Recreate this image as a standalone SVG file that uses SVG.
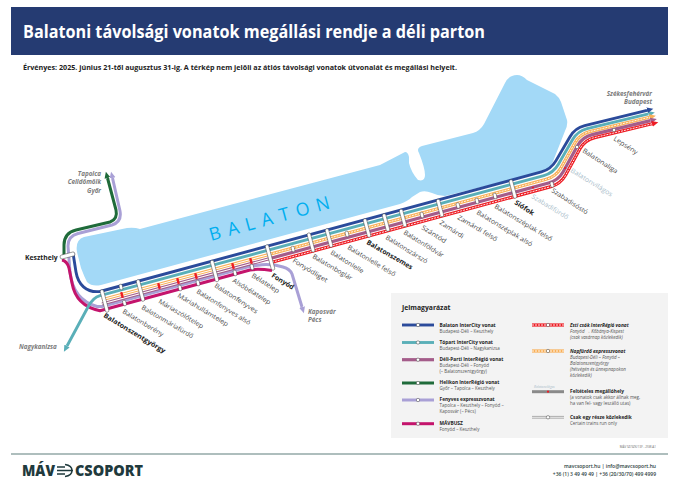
<svg xmlns="http://www.w3.org/2000/svg" xmlns:xlink="http://www.w3.org/1999/xlink" width="680" height="481" viewBox="0 0 680 481">
<style>
text{font-family:"Open Sans","Noto Sans","Liberation Sans",sans-serif}
.s{font-size:6.5px;fill:#4a4a4a}
.b{font-size:6.8px;font-weight:700;fill:#222}
.c{font-size:6.5px;fill:#a9bdca}
.d{font-size:6.3px;font-weight:700;font-style:italic;fill:#7c7c7c}
.lt{font-size:4.8px;font-weight:700;fill:#222}
.ls{font-size:4.5px;fill:#555}
.lti{font-size:4.8px;font-weight:700;font-style:italic;fill:#222}
.lsi{font-size:4.5px;font-style:italic;fill:#555}
.l{fill:none;stroke-linejoin:round}
.pill{fill:#fff;stroke:#444;stroke-width:.5}
.mk{fill:#ed1c24}
.blue{stroke:#2b4b9b;stroke-width:2.9}
.teal{stroke:#5aafb8;stroke-width:2.9}
.orange{stroke:#f9b058;stroke-width:3.2}
.mauve{stroke:#a45c8a;stroke-width:3.2}
.red{stroke:#ed1c24;stroke-width:3.2}
.lilac{stroke:#a9a0d6;stroke-width:3}
.magenta{stroke:#c4146c;stroke-width:3}
.green{stroke:#1f6b3a;stroke-width:3}
.wd{stroke:#fff;stroke-width:.9;stroke-dasharray:2 1;fill:none}
.ws{stroke:#fff;stroke-width:1.1;fill:none}
</style>
<defs>
<marker id="a-blue" markerUnits="userSpaceOnUse" markerWidth="8" markerHeight="8" refX="0" refY="4" orient="auto-start-reverse"><path d="M0 1L6.5 4L0 7z" fill="#2b4b9b"/></marker>
<marker id="a-teal" markerUnits="userSpaceOnUse" markerWidth="8" markerHeight="8" refX="0" refY="4" orient="auto-start-reverse"><path d="M0 1L6.5 4L0 7z" fill="#5aafb8"/></marker>
<marker id="a-orange" markerUnits="userSpaceOnUse" markerWidth="8" markerHeight="8" refX="0" refY="4" orient="auto-start-reverse"><path d="M0 1L6.5 4L0 7z" fill="#f9b058"/></marker>
<marker id="a-mauve" markerUnits="userSpaceOnUse" markerWidth="8" markerHeight="8" refX="0" refY="4" orient="auto-start-reverse"><path d="M0 1L6.5 4L0 7z" fill="#a45c8a"/></marker>
<marker id="a-red" markerUnits="userSpaceOnUse" markerWidth="8" markerHeight="8" refX="0" refY="4" orient="auto-start-reverse"><path d="M0 1L6.5 4L0 7z" fill="#ed1c24"/></marker>
<marker id="a-lilac" markerUnits="userSpaceOnUse" markerWidth="8" markerHeight="8" refX="0" refY="4" orient="auto-start-reverse"><path d="M0 1L6.5 4L0 7z" fill="#a9a0d6"/></marker>
<marker id="a-green" markerUnits="userSpaceOnUse" markerWidth="8" markerHeight="8" refX="0" refY="4" orient="auto-start-reverse"><path d="M0 1L6.5 4L0 7z" fill="#1f6b3a"/></marker>
<rect id="sm" x="-1.6" y="-2.8" width="3.2" height="5.6" rx="1.3" class="pill"/>
<rect id="rm" x="-1.2" y="-3" width="2.4" height="6" rx=".6" class="mk"/>
<circle id="cir" r="1.7" fill="#fff" stroke="#444" stroke-width=".5"/>
</defs>

<g id="header">
<rect x="11" y="7" width="657" height="48" fill="#253b72"/>
<text x="23" y="38" font-size="17" font-weight="700" fill="#fff" textLength="462" lengthAdjust="spacingAndGlyphs">Balatoni távolsági vonatok megállási rendje a déli parton</text>
<text x="23" y="70" font-size="6.8" font-weight="700" fill="#222" textLength="434" lengthAdjust="spacingAndGlyphs">Érvényes: 2025. június 21-től augusztus 31-ig. A térkép nem jelöli az átlós távolsági vonatok útvonalát és megállási helyeit.</text>
</g>

<g id="lake">
<path fill="#a3d9f7" d="M84 237L127 228Q134 227 140 229L380 165L405 152Q408 152 409 157L409 163Q411 172 418 180Q425 182 425 175Q425 168 419 153Q416 148 422 146L473 133Q480 131 484 124L505 83Q509 75 517 75Q522 75 527 80L555 94Q559 97 561 102L567 120Q568 125 565 131L552 164Q549 170 543 172L445 196Q438 196 432 193Q425 190 420 192L412 197Q408 201 400 204L101 285Q92 287 87 282Q84 276 81 268L77 252Q75 240 84 237z"/>
<text transform="translate(211 241) rotate(-15.3)" font-size="18" letter-spacing="1.25" fill="#00aeef">B A L A T O N</text>
</g>

<g id="connectors">
<path class="l lilac" marker-start="url(#a-lilac)" marker-end="url(#a-lilac)" d="M112.5 178L120 211Q122 222 112 225L78 233.5Q68 236 68 246L70 272Q73 300 97 306.5L102 306.5L250 266.4L262 264.7Q273 264 283 267Q290 269 292 274L302 307"/>
<path class="l green" marker-start="url(#a-green)" d="M107.5 178L116 210Q118 219 110 222L76 230Q64 233 64 245L64 255"/>
<path class="l magenta" d="M62 260Q67 261 69 268L72 283Q76 306 100 310.7L250 270Q258 268.5 272 270.5"/>
<path class="l teal" marker-start="url(#a-teal)" d="M67 346L88 307Q93 297.5 100 295.7L543.8 175.6Q553.4 173 558.4 164.3L572.5 139.7Q577.5 131 587.2 128.6L648.5 113.9" style="marker-end:url(#a-teal)"/>
<path class="l blue" marker-end="url(#a-blue)" d="M73 253L76 272C78 284 86 293 100 291.5L541.4 171.9Q551 169.3 556 160.6L570 136.7Q575 128 584.7 125.6L647 110.3"/>
<path id="p-o" class="l orange" marker-end="url(#a-orange)" d="M102 299.7L546.2 179.3Q555.8 176.7 560.8 168L575 142.7Q580 134 589.7 131.6L649.5 117.2"/>
<path class="wd" d="M270 254.2L546.2 179.3Q555.8 176.7 560.8 168L575 142.7Q580 134 589.7 131.6L649.5 117.2"/>
<path class="ws" d="M102 299.7L270 254.2"/>
<path class="l mauve" marker-end="url(#a-mauve)" d="M102 304L548.6 183Q558.2 180.4 563.2 171.7L577.5 145.7Q582.5 137 592.2 134.6L650.5 120.6"/>
<path class="ws" d="M102 304L270 258.5"/>
<path class="l red" marker-end="url(#a-red)" d="M272 262.2L550.9 186.6Q560.5 184 565.5 175.3L580 148.7Q585 140 594.7 137.6L652 123.8"/>
<path class="wd" d="M272 262.2L550.9 186.6Q560.5 184 565.5 175.3L580 148.7Q585 140 594.7 137.6L652 123.8"/>
</g>

<g id="destinations">
<text class="d" x="101" y="176" text-anchor="end">Tapolca</text>
<text class="d" x="101" y="184.3" text-anchor="end">Celldömölk</text>
<text class="d" x="101" y="192.7" text-anchor="end">Győr</text>
<text class="d" x="19" y="349">Nagykanizsa</text>
<text class="d" x="308" y="314">Kaposvár</text>
<text class="d" x="308" y="322">Pécs</text>
<text class="d" x="652" y="96" text-anchor="end">Székesfehérvár</text>
<text class="d" x="652" y="103.5" text-anchor="end">Budapest</text>
</g>

<g id="st-keszthely"><rect class="pill" x="-7.5" y="-2" width="15" height="4" rx="1.5" transform="translate(67.5 255.5) rotate(-15)"/><text class="b" x="25" y="260">Keszthely</text></g>
<g id="st-balatonszentgyorgy"><rect class="pill" x="-1.8" y="-11.5" width="3.6" height="23" rx="1.5" transform="translate(104.5 301) rotate(-15)"/><text class="b" transform="translate(103 316.7) rotate(31.2)" textLength="71" lengthAdjust="spacingAndGlyphs">Balatonszentgyörgy</text></g>
<g id="st-balatonbereny"><use href="#sm" transform="translate(121 287) rotate(-15)"/><use href="#sm" transform="translate(124.5 303) rotate(-15)"/><use href="#rm" transform="translate(122 295) rotate(-15)"/><text class="s" transform="translate(122 312.7) rotate(31)" textLength="46.6" lengthAdjust="spacingAndGlyphs">Balatonberény</text></g>
<g id="st-balatonmariafurdo"><rect class="pill" x="-1.8" y="-11" width="3.6" height="22" rx="1.5" transform="translate(140.5 290.5) rotate(-15)"/><text class="s" transform="translate(141 308.7) rotate(30.5)" textLength="59" lengthAdjust="spacingAndGlyphs">Balatonmáriafürdő</text></g>
<g id="st-mariaszolotelep"><use href="#rm" transform="translate(159 286) rotate(-15)"/><text class="s" transform="translate(158 302.7) rotate(30.6)" textLength="51" lengthAdjust="spacingAndGlyphs">Máriaszölőtelep</text></g>
<g id="st-mariahullamtelep"><use href="#rm" transform="translate(178 281) rotate(-15)"/><use href="#sm" transform="translate(180 288) rotate(-15)"/><text class="s" transform="translate(177 296.7) rotate(31)" textLength="58" lengthAdjust="spacingAndGlyphs">Máriahullámtelep</text></g>
<g id="st-balatonfenyves-also"><use href="#rm" transform="translate(196 276) rotate(-15)"/><use href="#sm" transform="translate(198 283) rotate(-15)"/><text class="s" transform="translate(196 292.7) rotate(31.5)" textLength="62" lengthAdjust="spacingAndGlyphs">Balatonfenyves alsó</text></g>
<g id="st-balatonfenyves"><rect class="pill" x="-1.8" y="-11" width="3.6" height="22" rx="1.5" transform="translate(214.5 271) rotate(-15)"/><text class="s" transform="translate(214 286.7) rotate(32.7)" textLength="50" lengthAdjust="spacingAndGlyphs">Balatonfenyves</text></g>
<g id="st-alsobelatelep"><use href="#rm" transform="translate(233 266) rotate(-15)"/><use href="#sm" transform="translate(235 273) rotate(-15)"/><text class="s" transform="translate(232 281.7) rotate(31.9)" textLength="43.6" lengthAdjust="spacingAndGlyphs">Alsóbélatelep</text></g>
<g id="st-belatelep"><use href="#rm" transform="translate(251 261) rotate(-15)"/><use href="#sm" transform="translate(252 267) rotate(-15)"/><text class="s" transform="translate(251 276.7) rotate(32)" textLength="31.6" lengthAdjust="spacingAndGlyphs">Bélatelep</text></g>
<g id="st-fonyod"><rect class="pill" x="-1.8" y="-13" width="3.6" height="26" rx="1.5" transform="translate(270 257.5) rotate(-15)"/><text class="b" transform="translate(271 276.7) rotate(31.8)" textLength="25" lengthAdjust="spacingAndGlyphs">Fonyód</text></g>
<g id="st-fonyodliget"><use href="#sm" transform="translate(293 249) rotate(-15)"/><text class="s" transform="translate(292 261.7) rotate(31.7)" textLength="40" lengthAdjust="spacingAndGlyphs">Fonyódliget</text></g>
<g id="st-balatonboglar"><rect class="pill" x="-1.8" y="-9.8" width="3.6" height="19.6" rx="1.5" transform="translate(311 242.5) rotate(-15)"/><text class="s" transform="translate(312 257.7) rotate(30.5)" textLength="45" lengthAdjust="spacingAndGlyphs">Balatonboglár</text></g>
<g id="st-balatonlelle"><rect class="pill" x="-1.8" y="-9.5" width="3.6" height="19" rx="1.5" transform="translate(329 238) rotate(-15)"/><text class="s" transform="translate(330 253.7) rotate(32)" textLength="37.7" lengthAdjust="spacingAndGlyphs">Balatonlelle</text></g>
<g id="st-balatonlelle-felso"><use href="#sm" transform="translate(347 234) rotate(-15)"/><text class="s" transform="translate(347 248.7) rotate(30.8)" textLength="54.7" lengthAdjust="spacingAndGlyphs">Balatonlelle felső</text></g>
<g id="st-balatonszemes"><rect class="pill" x="-1.8" y="-9.5" width="3.6" height="19" rx="1.5" transform="translate(367 228) rotate(-15)"/><text class="b" transform="translate(366 243.7) rotate(30)" textLength="52" lengthAdjust="spacingAndGlyphs">Balatonszemes</text></g>
<g id="st-balatonszarszo"><rect class="pill" x="-1.8" y="-9" width="3.6" height="18" rx="1.5" transform="translate(386 222.5) rotate(-15)"/><text class="s" transform="translate(385 238.7) rotate(31.4)" textLength="48" lengthAdjust="spacingAndGlyphs">Balatonszárszó</text></g>
<g id="st-balatonfoldvar"><rect class="pill" x="-1.8" y="-9" width="3.6" height="18" rx="1.5" transform="translate(403 218) rotate(-15)"/><text class="s" transform="translate(403 233.7) rotate(31.6)" textLength="46" lengthAdjust="spacingAndGlyphs">Balatonföldvár</text></g>
<g id="st-szantod"><use href="#sm" transform="translate(422 215) rotate(-15)"/><text class="s" transform="translate(421 228.7) rotate(32)" textLength="28" lengthAdjust="spacingAndGlyphs">Szántód</text></g>
<g id="st-zamardi"><rect class="pill" x="-1.8" y="-9" width="3.6" height="18" rx="1.5" transform="translate(440 208) rotate(-15)"/><text class="s" transform="translate(439 223.7) rotate(33)" textLength="27.5" lengthAdjust="spacingAndGlyphs">Zamárdi</text></g>
<g id="st-zamardi-felso"><use href="#sm" transform="translate(458 205.5) rotate(-15)"/><text class="s" transform="translate(457 218.7) rotate(30.5)" textLength="45" lengthAdjust="spacingAndGlyphs">Zamárdi felső</text></g>
<g id="st-balatonszeplak-also"><use href="#sm" transform="translate(477 201) rotate(-15)"/><text class="s" transform="translate(476 213.7) rotate(31)" textLength="64" lengthAdjust="spacingAndGlyphs">Balatonszéplak alsó</text></g>
<g id="st-balatonszeplak-felso"><use href="#sm" transform="translate(495 196) rotate(-15)"/><text class="s" transform="translate(494 207.7) rotate(30.8)" textLength="66" lengthAdjust="spacingAndGlyphs">Balatonszéplak felső</text></g>
<g id="st-siofok"><rect class="pill" x="-1.8" y="-9.5" width="3.6" height="19" rx="1.5" transform="translate(513 189) rotate(-15)"/><text class="b" transform="translate(514 203.7) rotate(33)" textLength="22" lengthAdjust="spacingAndGlyphs">Siófok</text></g>
<g id="st-szabadifurdo"><circle class="mk" cx="533" cy="187.5" r="1"/><text class="c" transform="translate(531 197.7) rotate(31.4)" textLength="42" lengthAdjust="spacingAndGlyphs">Szabadifürdő</text></g>
<g id="st-szabadisosto"><use href="#sm" transform="translate(552 184.5) rotate(-15)"/><text class="s" transform="translate(551 191.7) rotate(33)" textLength="42" lengthAdjust="spacingAndGlyphs">Szabadisóstó</text></g>
<g id="st-balatonvilagos"><circle class="mk" cx="565" cy="168" r="1"/><text class="c" transform="translate(570 171.7) rotate(31.4)" textLength="48" lengthAdjust="spacingAndGlyphs">Balatonvilágos</text></g>
<g id="st-balatonaliga"><use href="#cir" x="577" y="147"/><text class="s" transform="translate(582 151.7) rotate(32.9)" textLength="40.5" lengthAdjust="spacingAndGlyphs">Balatonaliga</text></g>
<g id="st-lepseny"><use href="#cir" x="614" y="130"/><text class="s" transform="translate(613 139.7) rotate(33)" textLength="27.5" lengthAdjust="spacingAndGlyphs">Lepsény</text></g>

<g id="legend">
<rect x="391" y="293" width="277" height="145" fill="#f3f3f3"/>
<text x="402" y="310" font-size="6.8" font-weight="700" fill="#222">Jelmagyarázat</text>
<g id="lg-blue"><path class="blue" d="M402 325H434"/><use href="#cir" x="418" y="325"/><text class="lt" x="439.5" y="326.6">Balaton InterCity vonat</text><text class="ls" x="439.5" y="332.6">Budapest-Déli – Keszthely</text></g>
<g id="lg-teal"><path class="teal" d="M402 342.5H434"/><use href="#cir" x="418" y="342.5"/><text class="lt" x="439.5" y="344">Tópart InterCity vonat</text><text class="ls" x="439.5" y="350">Budapest-Déli – Nagykanizsa</text></g>
<g id="lg-mauve"><path class="mauve" d="M402 359.7H434"/><use href="#cir" x="418" y="359.7"/><text class="lt" x="439.5" y="361">Déli-Parti InterRégió vonat</text><text class="ls" x="439.5" y="367">Budapest-Déli – Fonyód</text><text class="ls" x="439.5" y="373">(– Balatonszentgyörgy)</text></g>
<g id="lg-green"><path class="green" d="M402 383H434"/><use href="#cir" x="418" y="383"/><text class="lt" x="439.5" y="384.3">Helikon InterRégió vonat</text><text class="ls" x="439.5" y="390.3">Győr – Tapolca – Keszthely</text></g>
<g id="lg-lilac"><path class="lilac" d="M402 400H434"/><use href="#cir" x="418" y="400"/><text class="lt" x="439.5" y="401.3">Fenyves expresszvonat</text><text class="ls" x="439.5" y="407.3">Tapolca – Keszthely – Fonyód –</text><text class="ls" x="439.5" y="413.3">Kaposvár (– Pécs)</text></g>
<g id="lg-magenta"><path class="magenta" d="M402 423.7H434"/><use href="#cir" x="418" y="423.7"/><text class="lt" x="439.5" y="425">MÁVBUSZ</text><text class="ls" x="439.5" y="431">Fonyód – Keszthely</text></g>
<g id="lg-red"><path class="red" d="M532 325H564"/><path class="wd" d="M532 325H564"/><use href="#cir" x="548" y="325"/><text class="lti" x="570" y="326.5">Esti csók InterRégió vonat</text><text class="lsi" x="570" y="332.5">Fonyód → Kőbánya-Kispest</text><text class="lsi" x="570" y="338.5">(csak vasárnap közlekedik)</text></g>
<g id="lg-orange"><path class="orange" d="M532 351H564"/><path class="wd" d="M532 351H564"/><use href="#cir" x="548" y="351"/><text class="lti" x="570" y="352.5">Napfürdő expresszvonat</text><text class="lsi" x="570" y="358.5">Budapest-Déli – Fonyód –</text><text class="lsi" x="570" y="364.5">Balatonszentgyörgy</text><text class="lsi" x="570" y="370.5">(hétvégén és ünnepnapokon</text><text class="lsi" x="570" y="376.5">közlekedik)</text></g>
<g id="lg-cond"><path d="M532 391.7H564" stroke="#8a8a8a" stroke-width="3" fill="none"/><circle class="mk" cx="548" cy="391.7" r="1.1"/><text x="534" y="388" font-size="3.2" font-style="italic" fill="#a9bdca">Balatonvilágos</text><text class="lt" x="570" y="393">Feltételes megállóhely</text><text class="ls" x="570" y="399">(a vonatok csak akkor állnak meg,</text><text class="ls" x="570" y="405">ha van fel- vagy leszálló utas)</text></g>
<g id="lg-part"><path d="M532 416.4H564M532 418.2H564" stroke="#9a9a9a" stroke-width=".8" fill="none"/><use href="#cir" x="548" y="417.3"/><text class="lt" x="570" y="418.5">Csak egy része közlekedik</text><text class="ls" x="570" y="424.5">Certain trains run only</text></g>
</g>

<g id="footer">
<text x="656" y="448" font-size="3" text-anchor="end" fill="#666">MÁV SZ/SZK/13F - 25W-A1</text>
<path d="M11 454H668" stroke="#5f7f7d" stroke-width="1.2"/>
<g fill="#1f3a3d" font-weight="800">
<text x="22" y="475.5" font-size="15.5" textLength="33" lengthAdjust="spacingAndGlyphs">MÁV</text>
<text x="75" y="475.5" font-size="15.5" textLength="68" lengthAdjust="spacingAndGlyphs">CSOPORT</text>
</g>
<path d="M57 467H65M57 470.5H73M57 474H65M65 464.5Q72 465.5 72 470.5Q72 475.5 65 476.5" fill="none" stroke="#1f3a3d" stroke-width="1.5"/>
<text x="656" y="467.5" font-size="5" font-weight="600" text-anchor="end" fill="#2c3e40">mavcsoport.hu | info@mavcsoport.hu</text>
<text x="656" y="476" font-size="5" font-weight="600" text-anchor="end" fill="#2c3e40">+36 (1) 3 49 49 49 | +36 (20/30/70) 499 4999</text>
</g>
</svg>
